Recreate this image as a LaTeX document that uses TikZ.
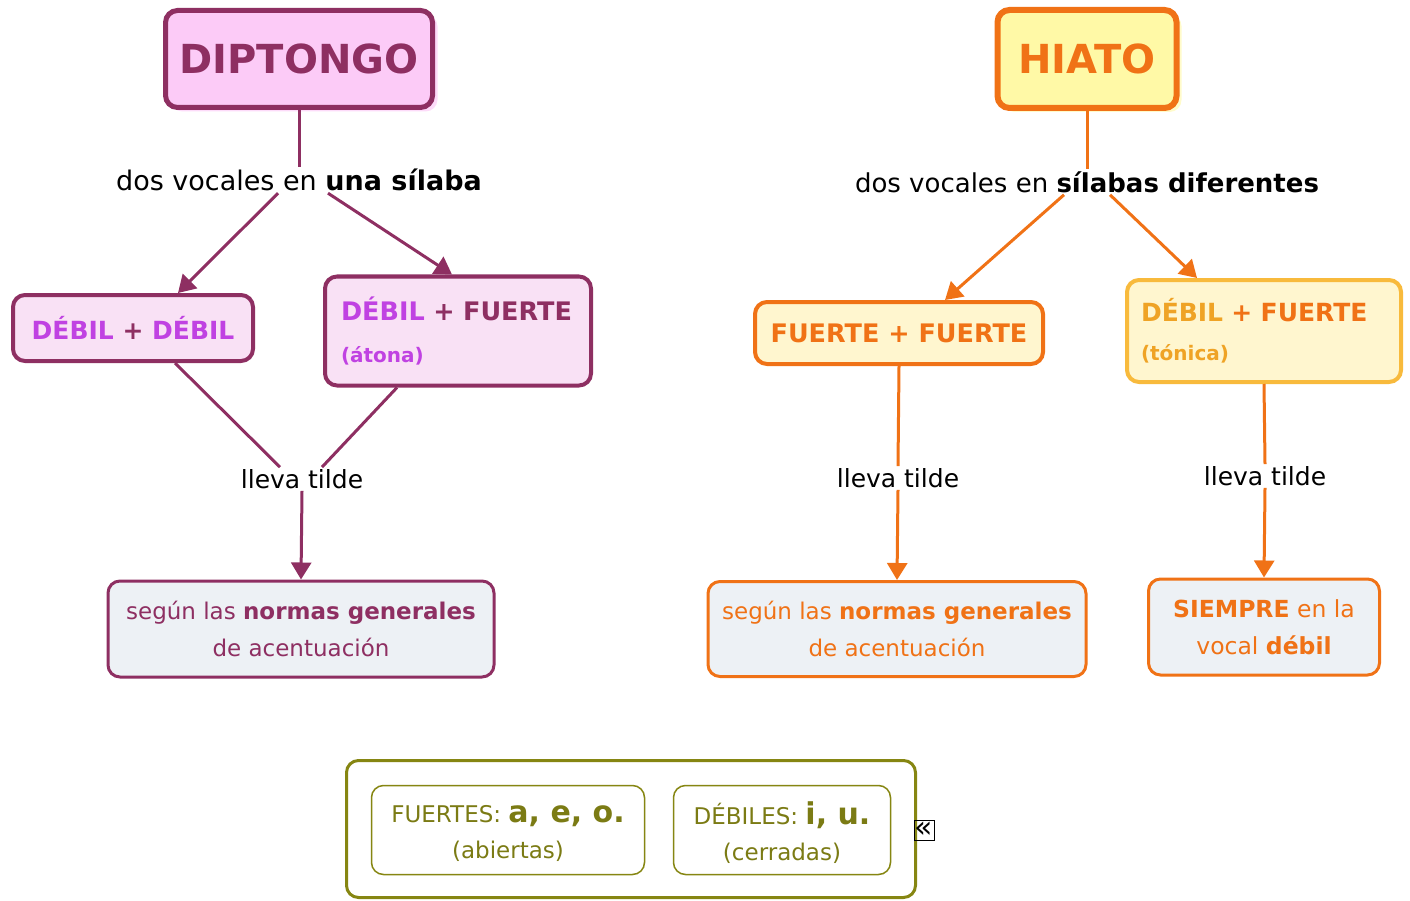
\documentclass[tikz,border=0pt]{standalone}
\usepackage{fontspec}
\setmainfont{DejaVu Sans}
\usetikzlibrary{arrows.meta,shadows}
\definecolor{dmag}{HTML}{8E2F62}
\definecolor{pinkA}{HTML}{FCCBF7}
\definecolor{pinkB}{HTML}{F9E1F5}
\definecolor{purp}{HTML}{C042E2}
\definecolor{bgray}{HTML}{EDF1F5}
\definecolor{orng}{HTML}{F07216}
\definecolor{yelA}{HTML}{FFF9A6}
\definecolor{yelB}{HTML}{FFF6CF}
\definecolor{orngY}{HTML}{F8BA3C}
\definecolor{orngL}{HTML}{EFA325}
\definecolor{olive}{HTML}{868612}
\definecolor{olivet}{HTML}{7B7B14}
\newcommand{\fs}[1]{\fontsize{#1}{#1}\selectfont}
\begin{document}
\begin{tikzpicture}[x=1pt,y=-1pt,
  box/.style={draw, rounded corners=12pt, inner sep=0pt, align=center},
  lbl/.style={inner sep=2pt, font=\fs{25}},
  mline/.style={draw=dmag, line width=3pt},
  marr/.style={mline, -{Triangle[length=17pt,width=20pt]}},
  oline/.style={draw=orng, line width=3pt},
  oarr/.style={oline, -{Triangle[length=17pt,width=20pt]}},
  legtxt/.style={inner sep=0pt, align=center, text=olivet, font=\fontsize{23}{36}\selectfont},
]
\useasboundingbox (0,0) rectangle (1410,901);
% ---------- left: DIPTONGO ----------
\node[box, line width=5pt, draw=dmag, fill=pinkA, text=dmag, minimum width=267pt, minimum height=97pt,
  font=\fs{40}\bfseries, drop shadow={shadow xshift=5pt, shadow yshift=-4pt, fill=pinkA!70, opacity=1}] (dip) at (299,59) {DIPTONGO};
\node[lbl, font=\fs{27}] (dvl) at (299,180) {dos vocales en \textbf{una sílaba}};
\node[box, line width=4pt, draw=dmag, fill=pinkB, minimum width=240pt, minimum height=66pt,
  font=\fs{25}\bfseries] (dd) at (133,328) {\textcolor{purp}{DÉBIL} \textcolor{dmag}{+} \textcolor{purp}{DÉBIL}};
\node[box, line width=4pt, draw=dmag, fill=pinkB, minimum width=266pt, minimum height=109pt,
  text width=234pt, align=left, inner xsep=16pt, font=\fontsize{25.5}{42}\selectfont\bfseries] (dfa) at (458,331)
  {\textcolor{purp}{DÉBIL} \textcolor{dmag}{+ FUERTE}\\\textcolor{purp}{\fs{20}(átona)}};
\node[lbl] (lt1) at (302,479) {lleva tilde};
\node[box, line width=3pt, draw=dmag, fill=bgray, text=dmag, minimum width=386pt, minimum height=96pt,
  font=\fontsize{23}{37}\selectfont] (sg1) at (301,629) {según las \textbf{normas generales}\\de acentuación};
\draw[mline] (dip.south) -- (dvl.north);
\draw[marr] ([xshift=-21pt]dvl.south) -- ([xshift=45pt]dd.north);
\draw[marr] ([xshift=29pt]dvl.south) -- ([xshift=-6pt]dfa.north);
\draw[mline] ([xshift=42pt]dd.south) -- ([xshift=-22pt]lt1.north);
\draw[mline] ([xshift=-61pt]dfa.south) -- ([xshift=20pt]lt1.north);
\draw[marr] (lt1.south) -- (sg1.north);
% ---------- right: HIATO ----------
\node[box, line width=6pt, draw=orng, fill=yelA, text=orng, minimum width=179pt, minimum height=98pt,
  font=\fs{40}\bfseries, drop shadow={shadow xshift=5pt, shadow yshift=-4pt, fill=yelA!60, opacity=1}] (hia) at (1087,59) {HIATO};
\node[lbl, font=\fs{26}] (dvr) at (1087,182) {dos vocales en \textbf{sílabas diferentes}};
\node[box, line width=4pt, draw=orng, fill=yelB, text=orng, minimum width=288pt, minimum height=62pt,
  font=\fs{25.5}\bfseries] (ff) at (899,333) {FUERTE + FUERTE};
\node[box, line width=4pt, draw=orngY, fill=yelB, minimum width=274pt, minimum height=102pt,
  text width=246pt, align=left, inner xsep=14pt, font=\fontsize{25}{39}\selectfont\bfseries] (dft) at (1264,331)
  {\textcolor{orngL}{DÉBIL} \textcolor{orng}{+ FUERTE}\\\textcolor{orngL}{\fs{20}(tónica)}};
\node[lbl] (lt2) at (898,478) {lleva tilde};
\node[lbl] (lt3) at (1265,476) {lleva tilde};
\node[box, line width=3pt, draw=orng, fill=bgray, text=orng, minimum width=378pt, minimum height=95pt,
  font=\fontsize{23}{37}\selectfont] (sg2) at (897,629) {según las \textbf{normas generales}\\de acentuación};
\node[box, line width=3pt, draw=orng, fill=bgray, text=orng, minimum width=231pt, minimum height=96pt,
  font=\fontsize{23.5}{37}\selectfont] (sie) at (1264,627) {\textbf{SIEMPRE} en la\\vocal \textbf{débil}};
\draw[oline] (hia.south) -- (dvr.north);
\draw[oarr] ([xshift=-23pt]dvr.south) -- ([xshift=46pt]ff.north);
\draw[oarr] ([xshift=23pt]dvr.south) -- ([xshift=-67pt]dft.north);
\draw[oline] (ff.south) -- (lt2.north);
\draw[oarr] (lt2.south) -- (sg2.north);
\draw[oline] (dft.south) -- (lt3.north);
\draw[oarr] (lt3.south) -- (sie.north);
% ---------- legend ----------
\node[box, line width=3pt, draw=olive, fill=white, minimum width=569pt, minimum height=137pt] (leg) at (631,829) {};
\node[box, line width=1.5pt, draw=olive, minimum width=273pt, minimum height=89pt] (fu) at (508,830) {};
\node[box, line width=1.5pt, draw=olive, minimum width=217pt, minimum height=89pt] (de) at (782,830) {};
\node[legtxt] (fut) at (508,833) {FUERTES: {\fs{30}\bfseries a, e, o.}\\(abiertas)};
\node[legtxt] (det) at (782,833) {DÉBILES: {\fs{30}\bfseries i, u.}\\(cerradas)};
\node[draw=black, line width=1pt, minimum width=20pt, minimum height=20pt, inner sep=0pt, font=\fs{30}] (ico) at (924,830) {«};
\end{tikzpicture}
\end{document}
